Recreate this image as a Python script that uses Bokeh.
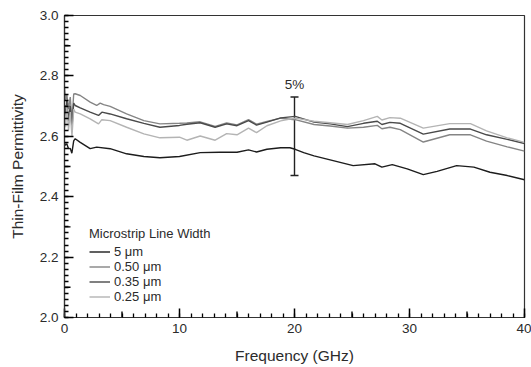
from bokeh.plotting import figure
from bokeh.models import (ColumnDataSource, FixedTicker, Legend, LegendItem,
                          Whisker, TeeHead, Label, Range1d, PrintfTickFormatter)
from bokeh.embed import file_html
from bokeh.resources import INLINE

# ---- data ----
freq_5um = [0.0, 0.06, 0.2, 0.35, 0.5, 0.64, 0.8, 0.93, 1.37, 2.23, 2.8, 3.97, 5.4, 6.9,
            8.3, 10.0, 11.8, 13.5, 15.0, 16.0, 16.7, 17.6, 18.8, 19.6, 20.06, 20.8, 21.7,
            23.1, 25.1, 27.0, 27.6, 28.5, 29.8, 31.2, 32.4, 34.1, 35.6, 37.0, 38.5, 40.0]
eps_5um = [2.58, 2.570, 2.575, 2.559, 2.56, 2.544, 2.585, 2.592, 2.580, 2.559, 2.564, 2.559,
           2.542, 2.533, 2.529, 2.533, 2.546, 2.547, 2.547, 2.555, 2.548, 2.557, 2.562, 2.562,
           2.557, 2.546, 2.535, 2.522, 2.503, 2.509, 2.498, 2.506, 2.492, 2.473, 2.484,
           2.503, 2.498, 2.481, 2.470, 2.456]

freq_050 = [0.0, 0.1, 0.2, 0.35, 0.5, 0.65, 0.8, 0.93, 1.37, 2.23, 2.8, 3.1, 3.4, 3.97, 5.4,
            6.9, 8.3, 10.0, 10.64, 11.8, 13.1, 14.1, 15.0, 16.0, 16.7, 17.6, 18.8, 20.06,
            21.7, 23.1, 24.6, 26.0, 27.2, 27.6, 28.3, 29.2, 31.2, 33.5, 35.3, 36.7, 38.5, 40.0]
eps_050 = [2.76, 2.72, 2.74, 2.69, 2.73, 2.65, 2.74, 2.741, 2.735, 2.713, 2.702, 2.710, 2.705,
           2.699, 2.674, 2.652, 2.641, 2.643, 2.644, 2.648, 2.633, 2.644, 2.638, 2.655, 2.640,
           2.649, 2.660, 2.655, 2.639, 2.634, 2.627, 2.630, 2.636, 2.625, 2.630, 2.622,
           2.581, 2.605, 2.605, 2.584, 2.565, 2.551]

freq_035 = [0.0, 0.1, 0.2, 0.35, 0.5, 0.65, 0.8, 0.93, 1.37, 2.23, 2.96, 3.25, 3.97, 5.4, 6.9,
            8.3, 10.0, 10.64, 11.8, 13.1, 14.1, 15.0, 16.0, 16.7, 17.6, 18.8, 20.06, 21.7,
            23.1, 24.6, 26.0, 27.2, 27.6, 28.3, 29.2, 31.2, 33.5, 35.3, 36.7, 38.5, 40.0]
eps_035 = [2.70, 2.66, 2.72, 2.65, 2.70, 2.63, 2.71, 2.702, 2.694, 2.680, 2.669, 2.680, 2.674,
           2.658, 2.643, 2.630, 2.636, 2.640, 2.645, 2.630, 2.641, 2.635, 2.652, 2.637, 2.647,
           2.661, 2.666, 2.647, 2.641, 2.632, 2.643, 2.650, 2.639, 2.646, 2.643, 2.607,
           2.624, 2.624, 2.605, 2.590, 2.576]

freq_025 = [0.0, 0.1, 0.2, 0.35, 0.5, 0.65, 0.8, 0.93, 1.37, 2.23, 2.96, 3.25, 3.97, 5.4, 6.9,
            8.3, 10.0, 10.64, 11.8, 13.1, 14.1, 15.0, 16.0, 16.7, 17.6, 18.8, 20.06, 21.7,
            23.1, 24.6, 26.0, 27.2, 27.6, 28.3, 29.2, 31.2, 33.5, 35.3, 36.7, 38.5, 40.0]
eps_025 = [2.68, 2.63, 2.70, 2.62, 2.68, 2.60, 2.69, 2.680, 2.674, 2.658, 2.641, 2.655, 2.652,
           2.630, 2.608, 2.595, 2.597, 2.587, 2.601, 2.587, 2.609, 2.605, 2.627, 2.612, 2.635,
           2.651, 2.660, 2.650, 2.645, 2.639, 2.652, 2.666, 2.654, 2.662, 2.660, 2.627,
           2.642, 2.642, 2.618, 2.595, 2.580]

series_labels = ["5 μm", "0.50 μm", "0.35 μm", "0.25 μm"]
series_colors = ["#1c1c1c", "#858585", "#4a4a4a", "#b4b4b4"]

errbar_x = [20.0]
errbar_low = [2.47]
errbar_high = [2.73]
errbar_text = "5%"

x_ticks = [0, 10, 20, 30, 40]
x_mid_ticks = [5, 15, 25, 35]
x_minor = list(range(0, 41))
y_ticks = [2.0, 2.2, 2.4, 2.6, 2.8, 3.0]
y_mid_ticks = [2.1, 2.3, 2.5, 2.7, 2.9]
y_minor = [round(2.0 + 0.02 * i, 2) for i in range(51)]

X0, X1, Y0, Y1 = 0, 40, 2.0, 3.0
FRAME_W, FRAME_H = 460, 302
PX_X = (X1 - X0) / FRAME_W
PX_Y = (Y1 - Y0) / FRAME_H

FONT = "Liberation Sans"
TXT = "#2b2b2b"
AX = "black"

p = figure(width=531, height=367, output_backend="svg", toolbar_location=None,
           x_range=Range1d(X0, X1), y_range=Range1d(Y0, Y1),
           min_border_left=64, min_border_right=7, min_border_top=15, min_border_bottom=50)
p.xgrid.visible = False
p.ygrid.visible = False
p.outline_line_color = "#333333"
p.outline_line_width = 1.2

p.xaxis.ticker = FixedTicker(ticks=x_ticks, minor_ticks=x_minor)
p.yaxis.ticker = FixedTicker(ticks=y_ticks, minor_ticks=y_minor)
p.xaxis.formatter = PrintfTickFormatter(format="%d")
p.yaxis.formatter = PrintfTickFormatter(format="%.1f")

p.xaxis.axis_line_color = "#333333"
p.yaxis.axis_line_color = "#333333"
p.xaxis.axis_line_width = 1.2
p.yaxis.axis_line_width = 1.2
p.xaxis.major_tick_line_color = AX
p.yaxis.major_tick_line_color = AX
p.xaxis.minor_tick_line_color = AX
p.yaxis.minor_tick_line_color = AX
p.xaxis.major_tick_line_width = 1.5
p.yaxis.major_tick_line_width = 1.5
p.xaxis.minor_tick_line_width = 1.3
p.yaxis.minor_tick_line_width = 1.3
p.xaxis.major_tick_in = 9
p.yaxis.major_tick_in = 9
p.xaxis.major_tick_out = 0
p.yaxis.major_tick_out = 0
p.xaxis.minor_tick_in = 4
p.yaxis.minor_tick_in = 4
p.xaxis.minor_tick_out = 0
p.yaxis.minor_tick_out = 0
p.xaxis.major_label_text_font = FONT
p.yaxis.major_label_text_font = FONT
p.xaxis.major_label_text_font_size = "13.5px"
p.yaxis.major_label_text_font_size = "13.5px"
p.xaxis.major_label_text_color = TXT
p.yaxis.major_label_text_color = TXT
p.xaxis.axis_label_text_font = FONT
p.yaxis.axis_label_text_font = FONT
p.xaxis.axis_label_text_font_size = "15.5px"
p.yaxis.axis_label_text_font_size = "15.5px"
p.xaxis.axis_label_text_font_style = "normal"
p.yaxis.axis_label_text_font_style = "normal"
p.xaxis.axis_label_text_color = TXT
p.yaxis.axis_label_text_color = TXT
p.xaxis.major_label_standoff = 6
p.yaxis.major_label_standoff = 6
p.xaxis.axis_label = "Frequency (GHz)"
p.yaxis.axis_label = "Thin-Film Permittivity"
p.xaxis.axis_label_standoff = 11
p.yaxis.axis_label_standoff = 11

# medium-length tick marks at the half-decades
p.segment(x0=x_mid_ticks, y0=[Y0] * len(x_mid_ticks), x1=x_mid_ticks,
          y1=[Y0 + 6 * PX_Y] * len(x_mid_ticks), line_color=AX, line_width=1.4)
p.segment(x0=[X0] * len(y_mid_ticks), y0=y_mid_ticks,
          x1=[X0 + 6 * PX_X] * len(y_mid_ticks), y1=y_mid_ticks,
          line_color=AX, line_width=1.4)

renderers = []
for fx, fy, col in [(freq_5um, eps_5um, series_colors[0]),
                    (freq_050, eps_050, series_colors[1]),
                    (freq_035, eps_035, series_colors[2]),
                    (freq_025, eps_025, series_colors[3])]:
    r = p.line(fx, fy, line_color=col, line_width=1.4)
    renderers.append(r)

# 5% error bar
src = ColumnDataSource(dict(x=errbar_x, lower=errbar_low, upper=errbar_high))
wh = Whisker(base="x", lower="lower", upper="upper", source=src,
             line_color="#222222", line_width=1.4,
             upper_head=TeeHead(size=8, line_color="#222222", line_width=1.4),
             lower_head=TeeHead(size=8, line_color="#222222", line_width=1.4))
p.add_layout(wh)
p.add_layout(Label(x=errbar_x[0], y=errbar_high[0], y_offset=5, text=errbar_text,
                   text_align="center", text_baseline="bottom",
                   text_font=FONT, text_font_size="13.5px", text_color=TXT))

legend = Legend(items=[LegendItem(label=lab, renderers=[r])
                       for lab, r in zip(series_labels, renderers)],
                location=(25, 13), title="Microstrip Line Width")
legend.title_text_font = FONT
legend.title_text_font_size = "13px"
legend.title_text_font_style = "normal"
legend.title_text_color = TXT
legend.title_standoff = 3
legend.label_text_font = FONT
legend.label_text_font_size = "13px"
legend.label_text_color = TXT
legend.glyph_width = 21
legend.glyph_height = 15
legend.label_height = 15
legend.label_standoff = 4
legend.spacing = 0
legend.padding = 0
legend.margin = 0
legend.border_line_color = None
legend.background_fill_alpha = 0
p.add_layout(legend)

open("out.html", "w").write(file_html(p, INLINE))
